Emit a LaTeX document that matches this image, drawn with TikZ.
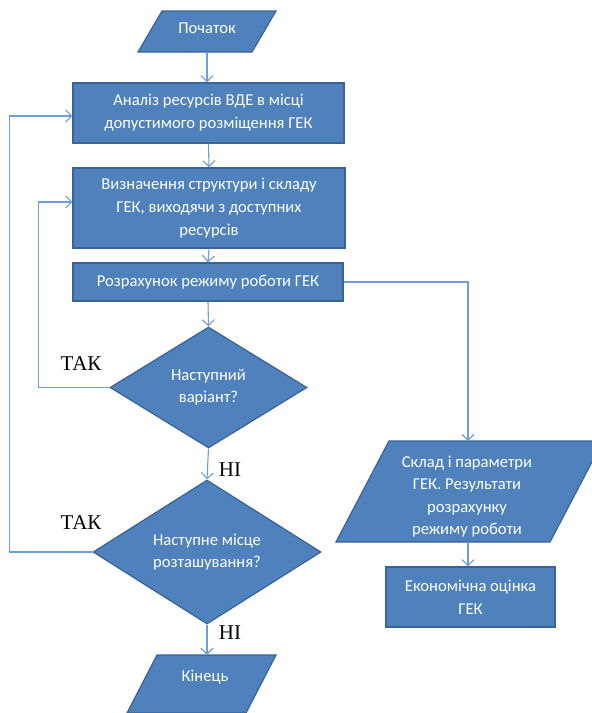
\documentclass[tikz,border=0pt]{standalone}
\usepackage{fontspec}
\setmainfont{Carlito}
\newfontfamily\tnr{Liberation Serif}
\usetikzlibrary{shapes.geometric,arrows.meta}
\definecolor{boxfill}{HTML}{4F81BD}
\definecolor{boxline}{HTML}{3A6397}
\definecolor{connc}{HTML}{6F9DD6}
\begin{document}
\begin{tikzpicture}[x=1pt,y=-1pt,
  shp/.style={fill=boxfill, draw=boxline, line width=1.2pt},
  boxnode/.style={shp, rectangle, inner sep=0pt, text=white, align=center, font=\fontsize{16.6}{23}\selectfont},
  dianode/.style={shp, diamond, inner sep=0pt, text=white, align=center, font=\fontsize{16.6}{22}\selectfont},
  txt/.style={text=white, align=center, inner sep=0pt, font=\fontsize{16.6}{22.3}\selectfont},
  conn/.style={draw=connc, line width=1.1pt, -{Straight Barb[length=6pt,width=12pt]}},
  lbl/.style={font=\tnr\fontsize{21}{24}\selectfont, text=black, inner sep=0pt}]
\useasboundingbox (0,0) rectangle (592,713);
\clip (0,0) rectangle (592,713);

% start parallelogram
\draw[shp] (162,11) -- (276,11) -- (252,52) -- (138,52) -- cycle;
\node[txt] (start) at (207,28) {Початок};
\coordinate (s-out) at (207,52);

% boxes
\node[boxnode, minimum width=271pt, minimum height=60pt] (b1) at (208.5,113)
  {Аналіз ресурсів ВДЕ в місці\\допустимого розміщення ГЕК};
\node[boxnode, minimum width=272pt, minimum height=80pt] (b2) at (209,208)
  {Визначення структури і складу\\ГЕК, виходячи з доступних\\ресурсів};
\node[boxnode, minimum width=270pt, minimum height=38pt] (b3) at (208,282)
  {Розрахунок режиму роботи ГЕК};

% diamonds
\node[dianode, minimum width=197pt, minimum height=121pt] (d1) at (208.5,387.5)
  {Наступний\\варіант?};
\node[dianode, minimum width=228pt, minimum height=144pt] (d2) at (207,552)
  {Наступне місце\\розташування?};

% end parallelogram
\draw[shp] (157,655) -- (276,655) -- (246,713) -- (127,713) -- cycle;
\node[txt] (end) at (205,677) {Кінець};
\coordinate (e-in) at (207,655);

% right parallelogram
\draw[shp] (389,441) -- (603,441) -- (550,542) -- (336,542) -- cycle;
\node[txt] (res) at (467,496.5) {Склад і параметри\\ГЕК. Результати\\розрахунку\\режиму роботи};
\coordinate (r-in) at (468,441);
\coordinate (r-out) at (468,542);

\node[boxnode, minimum width=169pt, minimum height=60pt] (econ) at (470.5,597)
  {Економічна оцінка\\ГЕК};

% connectors
\draw[conn] (s-out) -- (s-out |- b1.north);
\draw[conn] (b1.south) -- (b2.north);
\draw[conn] (b2.south) -- (b3.north);
\draw[conn] (b3.south) -- (d1.north);
\draw[conn] (d1.south) -- (d2.north);
\draw[conn] (d2.south) -- (e-in);
\draw[conn] (b3.east) -| (r-in);
\draw[conn] (r-out) -- (r-out |- econ.north);
\draw[conn] (d1.west) -- ++(-71,0) |- ([yshift=6pt]b2.west);
\draw[conn] (d2.west) -- ++(-83,0) |- ([yshift=-3pt]b1.west);

% labels
\node[lbl] (tak1) at (81,364) {ТАК};
\node[lbl] (tak2) at (81,523) {ТАК};
\node[lbl] (ni1) at (230,470) {НІ};
\node[lbl] (ni2) at (230,633) {НІ};
\end{tikzpicture}
\end{document}
